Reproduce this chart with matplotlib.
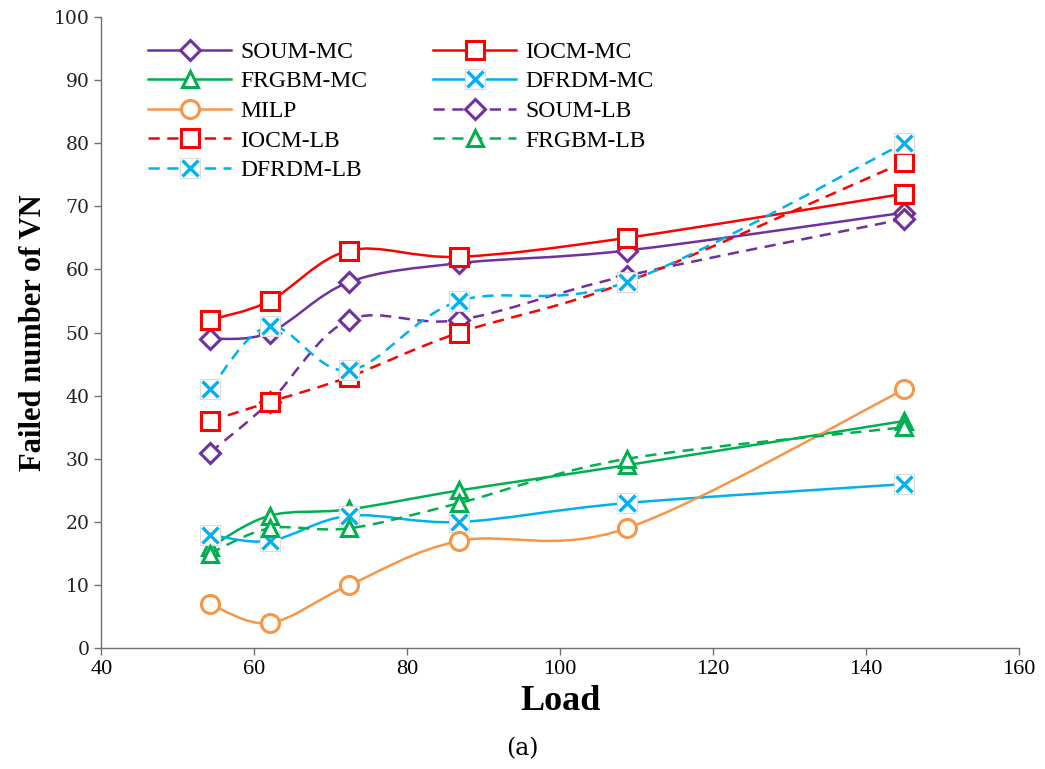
import matplotlib
matplotlib.use('Agg')
import matplotlib.pyplot as plt
from matplotlib.path import Path
from matplotlib.patches import PathPatch
from matplotlib.lines import Line2D
from matplotlib.legend_handler import HandlerTuple

load = [54.2, 62, 72.4, 86.8, 108.7, 145]

soum_mc = [49, 50, 58, 61, 63, 69]
iocm_mc = [52, 55, 63, 62, 65, 72]
frgbm_mc = [16, 21, 22, 25, 29, 36]
dfrdm_mc = [18, 17, 21, 20, 23, 26]
milp = [7, 4, 10, 17, 19, 41]
soum_lb = [31, 39, 52, 52, 59, 68]
iocm_lb = [36, 39, 43, 50, 58, 77]
frgbm_lb = [15, 19, 19, 23, 30, 35]
dfrdm_lb = [41, 51, 44, 55, 58, 80]

PURPLE = '#7030A0'
RED = '#FF0000'
GREEN = '#00B050'
BLUE = '#00B0F0'
ORANGE = '#F79646'

# name, values, color, marker, dashed
series = [
    ('SOUM-MC', soum_mc, PURPLE, 'D', False),
    ('IOCM-MC', iocm_mc, RED, 's', False),
    ('FRGBM-MC', frgbm_mc, GREEN, '^', False),
    ('DFRDM-MC', dfrdm_mc, BLUE, 'x', False),
    ('MILP', milp, ORANGE, 'o', False),
    ('SOUM-LB', soum_lb, PURPLE, 'D', True),
    ('IOCM-LB', iocm_lb, RED, 's', True),
    ('FRGBM-LB', frgbm_lb, GREEN, '^', True),
    ('DFRDM-LB', dfrdm_lb, BLUE, 'x', True),
]

marker_size = {'D': 10, 's': 13, '^': 12, 'o': 13, 'x': 12}
DASH = (0, (4.5, 3))
LW = 1.8


def smooth_path(xs, ys):
    # excel-like smoothed line, cubic bezier through each point
    pts = list(zip(xs, ys))
    n = len(pts)
    verts = [pts[0]]
    codes = [Path.MOVETO]
    for i in range(n - 1):
        p0 = pts[i - 1] if i > 0 else pts[i]
        p1 = pts[i]
        p2 = pts[i + 1]
        p3 = pts[i + 2] if i + 2 < n else pts[i + 1]
        c1 = (p1[0] + (p2[0] - p0[0]) / 6, p1[1] + (p2[1] - p0[1]) / 6)
        c2 = (p2[0] - (p3[0] - p1[0]) / 6, p2[1] - (p3[1] - p1[1]) / 6)
        verts += [c1, c2, p2]
        codes += [Path.CURVE4] * 3
    return Path(verts, codes)


def marker_kw(marker, color):
    if marker == 'x':
        return dict(marker='x', markersize=marker_size[marker], markeredgewidth=2.4,
                    color=color)
    return dict(marker=marker, markersize=marker_size[marker], markeredgewidth=2.2,
                markeredgecolor=color, markerfacecolor='white')


fig = plt.figure(figsize=(10.45, 7.69), dpi=100)
ax = fig.add_axes([0.097, 0.157, 0.878, 0.821])

handles = []
z = 2
for name, vals, color, marker, dashed in series:
    ls = DASH if dashed else '-'
    patch = PathPatch(smooth_path(load, vals), fill=False, edgecolor=color, lw=LW,
                      linestyle=ls, zorder=z, transform=ax.transData)
    ax.add_patch(patch)
    line = Line2D([], [], color=color, lw=LW, linestyle=ls)
    mk = Line2D([], [], linestyle='none', **marker_kw(marker, color))
    if marker == 'x':
        ax.plot(load, vals, linestyle='none', marker='s', markersize=14,
                markerfacecolor='white', markeredgecolor='#dcdcdc', markeredgewidth=0.8,
                zorder=z + 0.5)
        box = Line2D([], [], linestyle='none', marker='s', markersize=14,
                     markerfacecolor='white', markeredgecolor='#dcdcdc', markeredgewidth=0.8)
        handles.append(((line, box, mk), name))
    else:
        handles.append(((line, mk), name))
    ax.plot(load, vals, linestyle='none', zorder=z + 0.6, **marker_kw(marker, color))
    z += 1

ax.set_xlim(40, 160)
ax.set_ylim(0, 100)
ax.set_xticks(range(40, 161, 20))
ax.set_yticks(range(0, 101, 10))

for s in ['top', 'right']:
    ax.spines[s].set_visible(False)
for s in ['left', 'bottom']:
    ax.spines[s].set_color('#707070')
    ax.spines[s].set_linewidth(1.0)

ax.tick_params(direction='out', length=5, width=1.0, color='#707070')
for lab in ax.get_xticklabels():
    lab.set_fontfamily('Liberation Serif')
    lab.set_fontsize(16)
for lab in ax.get_yticklabels():
    lab.set_fontfamily('DejaVu Serif')
    lab.set_fontsize(13.5)
    lab.set_color('#222222')

ax.set_xlabel('Load', fontfamily='Liberation Serif', fontweight='bold', fontsize=26,
              labelpad=4)
ax.set_ylabel('Failed number of VN', fontfamily='Liberation Serif', fontweight='bold',
              fontsize=22, labelpad=4)

# legend filled row by row like the original
order = [0, 2, 4, 6, 8, 1, 3, 5, 7]
leg = ax.legend([handles[i][0] for i in order], [handles[i][1] for i in order], ncol=2,
                loc='upper left', bbox_to_anchor=(0.028, 0.995), frameon=False,
                handler_map={tuple: HandlerTuple(ndivide=1, pad=0)},
                prop={'family': 'Liberation Serif', 'size': 17},
                handlelength=3.5, handletextpad=0.4, columnspacing=2.8,
                labelspacing=0.34)

fig.text(0.5, 0.027, '(a)', ha='center', va='center', fontfamily='DejaVu Serif',
         fontsize=17)

fig.savefig('out.png', dpi=100)
